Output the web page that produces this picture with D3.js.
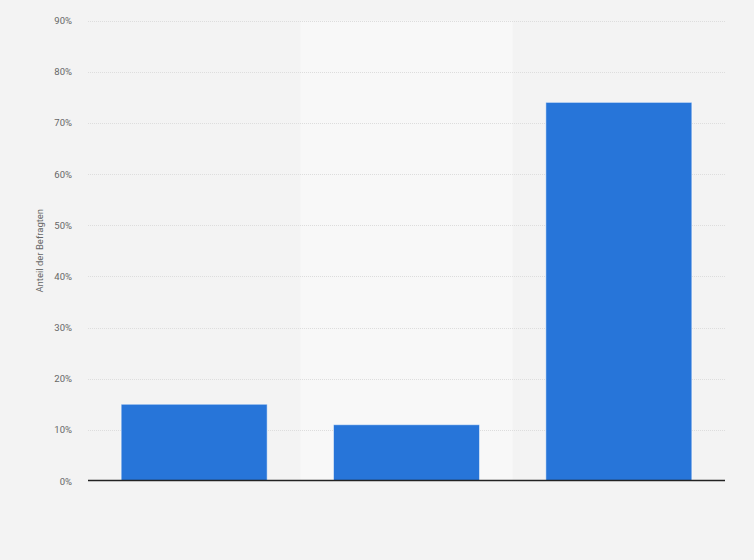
<!DOCTYPE html>
<html><head><meta charset="utf-8">
<script src="https://cdn.jsdelivr.net/npm/d3@7"></script>
<style>html,body{margin:0;padding:0;background:#f3f3f3;}svg{display:block;font-family:Roboto,"Liberation Sans",Arial,sans-serif;}</style>
</head><body>
<script>
const categories = ["A", "B", "C"];
const values = [15, 11, 74];
const yTicks = [0, 10, 20, 30, 40, 50, 60, 70, 80, 90];
const yTitle = "Anteil der Befragten";

const W = 754, H = 560;
const m = {left: 88, right: 29, top: 20.5, bottom: 79};
const svg = d3.select("body").append("svg").attr("width", W).attr("height", H);
svg.append("rect").attr("width", W).attr("height", H).attr("fill", "#f3f3f3");

const x = d3.scaleBand().domain(categories).range([m.left, W - m.right]).paddingInner(0).paddingOuter(0);
const y = d3.scaleLinear().domain([0, 90]).range([H - m.bottom, m.top]);

// alternating band
svg.selectAll("rect.band").data(categories.filter((d, i) => i % 2 === 1)).enter().append("rect")
  .attr("x", d => x(d)).attr("y", y(90)).attr("width", x.bandwidth()).attr("height", y(0) - y(90))
  .attr("fill", "#f8f8f8");

// grid
svg.selectAll("line.grid").data(yTicks.filter(d => d > 0)).enter().append("line")
  .attr("x1", m.left).attr("x2", W - m.right)
  .attr("y1", d => Math.round(y(d)) + 0.5).attr("y2", d => Math.round(y(d)) + 0.5)
  .attr("stroke", "#dddddd").attr("stroke-width", 1).attr("stroke-dasharray", "1,1");

// y labels
svg.selectAll("text.yl").data(yTicks).enter().append("text")
  .attr("x", 72).attr("y", d => y(d) + 3.5).attr("text-anchor", "end")
  .attr("font-size", "9.5px").attr("fill", "#666").text(d => d + "%");

// bars
const inner = 146 / x.bandwidth();
svg.selectAll("rect.bar").data(categories).enter().append("rect")
  .attr("x", d => x(d) + x.bandwidth() * (1 - inner) / 2)
  .attr("width", x.bandwidth() * inner)
  .attr("y", (d, i) => y(values[i]))
  .attr("height", (d, i) => y(0) - y(values[i]))
  .attr("fill", "#2775d9").attr("stroke", "rgba(255,255,255,0.5)").attr("stroke-width", 1);

// baseline
svg.append("line").attr("x1", m.left).attr("x2", W - m.right)
  .attr("y1", 480.5).attr("y2", 480.5).attr("stroke", "#222").attr("stroke-width", 1.5);

// y title
svg.append("text").attr("transform", `translate(43,${(y(0) + y(90)) / 2}) rotate(-90)`)
  .attr("text-anchor", "middle").attr("font-size", "9.5px").attr("fill", "#666").text(yTitle);
</script>
</body></html>
